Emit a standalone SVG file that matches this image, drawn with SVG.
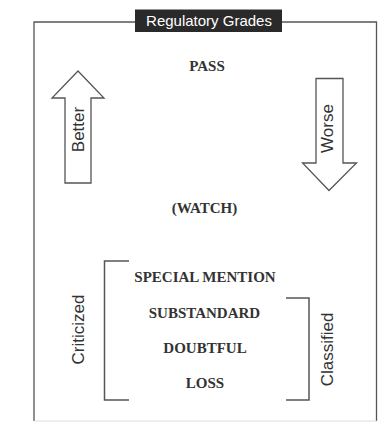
<svg xmlns="http://www.w3.org/2000/svg" width="378" height="423" viewBox="0 0 378 423">
<style>
.frame{fill:none;stroke:#555;stroke-width:1.3}
.arrow{fill:#fff;stroke:#555;stroke-width:1.3;stroke-linejoin:miter}
.br{fill:none;stroke:#555;stroke-width:1.5}
.grade{font-family:"Liberation Serif","Times New Roman",serif;font-weight:bold;font-size:15px;fill:#333;text-anchor:middle}
.side{font-family:"Liberation Sans",Arial,sans-serif;font-size:17px;fill:#333;text-anchor:middle}
.title{font-family:"Liberation Sans",Arial,sans-serif;font-size:15px;fill:#fff;text-anchor:middle}
</style>
<rect width="378" height="423" fill="#fff"/>
<g id="frame">
<path class="frame" d="M34,421 V22 H376.5 V421"/>
<line x1="34" y1="421" x2="376.5" y2="421" stroke="#ddd" stroke-width="1"/>
</g>
<g id="title">
<rect x="135" y="9.5" width="147" height="22.5" fill="#2a2a2a"/>
<text class="title" x="209" y="26">Regulatory Grades</text>
</g>
<g id="better">
<path class="arrow" d="M78,71 L104,98 H91 V183 H65 V98 H52 Z"/>
<text class="side" transform="translate(83.5,129.5) rotate(-90)">Better</text>
</g>
<g id="worse">
<path class="arrow" d="M316,78.5 H343 V163 H356.5 L329,190.5 L302.5,163 H316 Z"/>
<text class="side" transform="translate(333,128.5) rotate(-90)">Worse</text>
</g>
<g id="pass"><text class="grade" x="207" y="71">PASS</text></g>
<g id="watch"><text class="grade" x="204.5" y="213">(WATCH)</text></g>
<g id="special-mention"><text class="grade" x="205" y="282">SPECIAL MENTION</text></g>
<g id="substandard"><text class="grade" x="204.5" y="318">SUBSTANDARD</text></g>
<g id="doubtful"><text class="grade" x="205" y="353">DOUBTFUL</text></g>
<g id="loss"><text class="grade" x="205" y="388">LOSS</text></g>
<g id="criticized">
<path class="br" d="M129,261 H104.5 V400 H129"/>
<text class="side" transform="translate(83.5,329.5) rotate(-90)">Criticized</text>
</g>
<g id="classified">
<path class="br" d="M286,298 H309 V400 H286"/>
<text class="side" transform="translate(333,349.5) rotate(-90)">Classified</text>
</g>
</svg>
